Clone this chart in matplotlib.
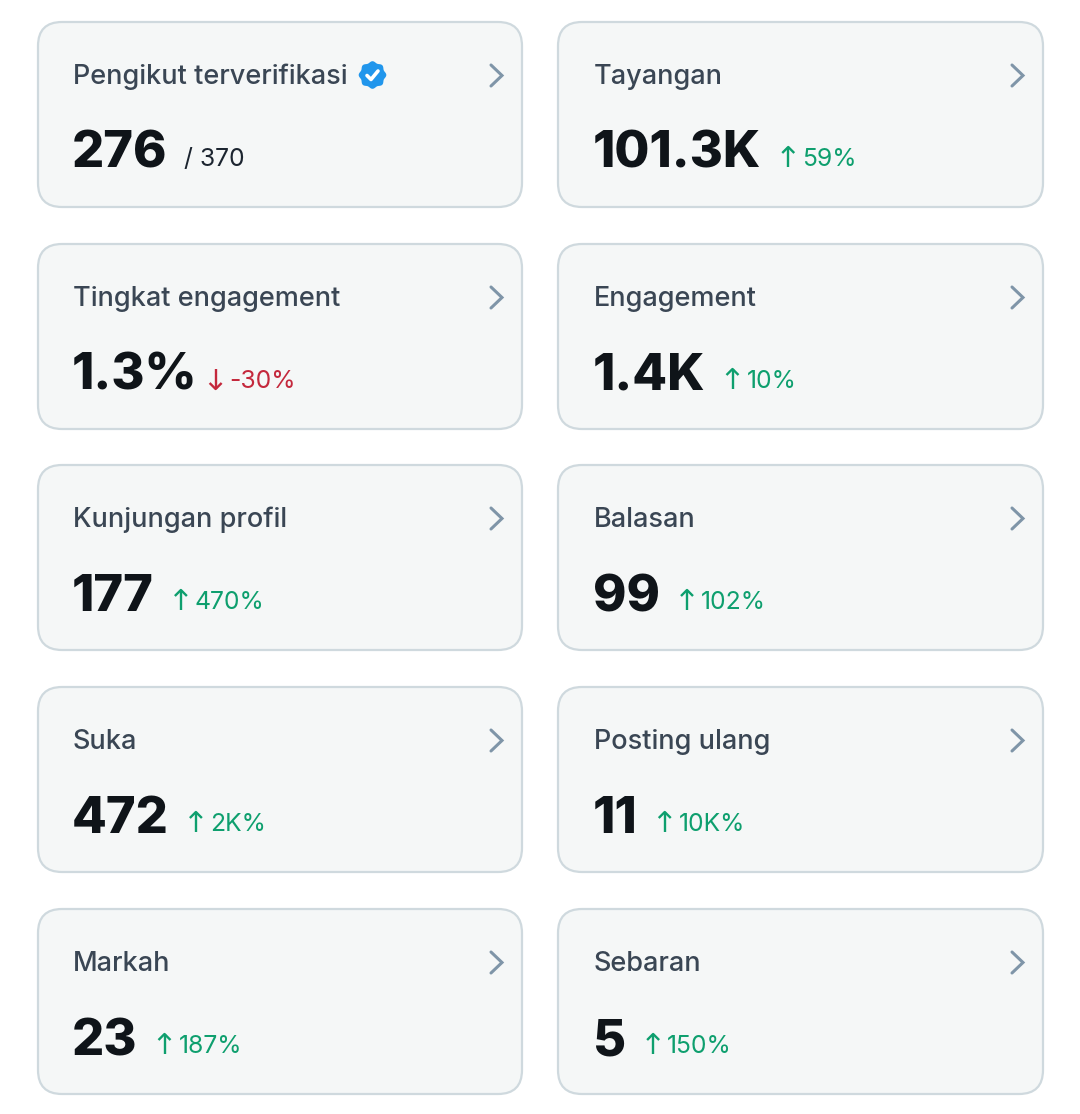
import matplotlib
import matplotlib.pyplot as plt
import numpy as np
from matplotlib.patches import FancyBboxPatch, Polygon

matplotlib.use("Agg")

LABELS = ["Pengikut terverifikasi", "Tayangan", "Tingkat engagement", "Engagement",
          "Kunjungan profil", "Balasan", "Suka", "Posting ulang", "Markah", "Sebaran"]
VALUES = ["276", "101.3K", "1.3%", "1.4K", "177", "99", "472", "11", "23", "5"]
DELTAS = ["/ 370", "59%", "-30%", "10%", "470%", "102%", "2K%", "10K%", "187%", "150%"]
DIRECTIONS = [0, 1, -1, 1, 1, 1, 1, 1, 1, 1]

CARD_X = [38, 558]
CARD_Y = [22, 244, 465, 687, 909]
CARD_W, CARD_H = 484, 185

GREEN = "#0e9f6e"
RED = "#c4283c"
DARK = "#0f1419"
SLATE = "#3a4654"
ARROW = "#7f95a8"
BORDER = "#cfd9de"
FILL = "#f5f7f7"
BLUE = "#2196ec"
FONT = "Inter"

fig = plt.figure(figsize=(10.8, 11.14), dpi=100)
ax = fig.add_axes([0, 0, 1, 1])
ax.set_xlim(0, 1080)
ax.set_ylim(1114, 0)
ax.axis("off")


def draw_badge(cx, cy):
    t = np.linspace(0, 2 * np.pi, 200)
    r = 13 + 0.8 * np.cos(8 * t)
    ax.add_patch(Polygon(np.c_[cx + r * np.cos(t), cy + r * np.sin(t)], fc=BLUE, ec="none", zorder=3))
    ax.plot([cx - 5.5, cx - 1.5, cx + 5.5], [cy + 0.5, cy + 4.5, cy - 4],
            color="white", lw=2.6, solid_capstyle="round", solid_joinstyle="round", zorder=4)


def draw_card(i, x, y):
    ax.add_patch(FancyBboxPatch((x, y), CARD_W + i % 2, CARD_H, boxstyle="round,pad=0,rounding_size=24",
                                fc=FILL, ec=BORDER, lw=1.6))
    left = x + 35 + i % 2
    label = ax.text(left, y + 62, LABELS[i], family=FONT, fontsize=19.5, weight=500,
                    color=SLATE, va="baseline", ha="left")
    # chevron
    cx = x + 453 + i % 2
    ax.plot([cx, cx + 11, cx], [y + 43, y + 53.5, y + 64], color=ARROW, lw=2.2,
            solid_capstyle="round", solid_joinstyle="miter")

    base = y + 146
    val = ax.text(left - 1, base, VALUES[i], family=FONT, fontsize=36.5, weight="heavy",
                  color=DARK, va="baseline", ha="left")
    renderer = fig.canvas.get_renderer()
    right = left - 1 + val.get_window_extent(renderer).width
    # Inter's percent sign runs wider than the original face
    if VALUES[i].endswith("%"):
        right -= 9

    if i == 0:
        ext = label.get_window_extent(renderer)
        draw_badge(ext.x1 + 25, y + 53)

    direction = DIRECTIONS[i]
    if direction == 0:
        ax.text(right + 16, base - 2, DELTAS[i], family=FONT, fontsize=17.8, color="#1c2530",
                va="baseline", ha="left")
        return

    color = GREEN if direction > 0 else RED
    ax_x = right + 27
    top, bottom = base - 21, base - 1
    tip, tail = (top, bottom) if direction > 0 else (bottom, top)
    ax.plot([ax_x, ax_x], [tail, tip], color=color, lw=1.7, solid_capstyle="butt")
    ax.plot([ax_x - 6, ax_x, ax_x + 6], [tip + 6 * direction, tip, tip + 6 * direction],
            color=color, lw=1.7, solid_capstyle="butt")
    ax.text(ax_x + 14, base - 2, DELTAS[i], family=FONT, fontsize=17.8, color=color,
            va="baseline", ha="left")


for i in range(len(LABELS)):
    draw_card(i, CARD_X[i % 2], CARD_Y[i // 2])

fig.savefig("out.png", dpi=100, facecolor="white")
